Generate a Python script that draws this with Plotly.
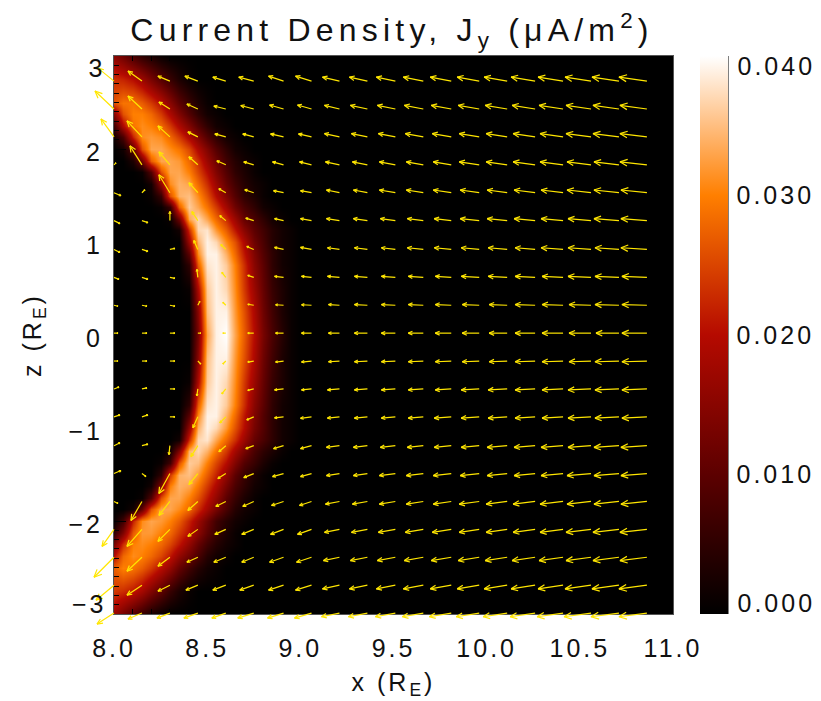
import math
import plotly.graph_objects as go

# ---------- current density, units of 1e-3 uA/m^2 ----------
x_heat = [8.00, 8.05, 8.10, 8.15, 8.20, 8.25, 8.30, 8.35, 8.40, 8.45, 8.50, 8.55,
          8.60, 8.65, 8.70, 8.75, 8.80, 8.85, 8.90, 8.95, 9.00, 9.05, 11.0]
z_heat = [-3, -2.75, -2.5, -2.375, -2.25, -2.125, -2, -1.875, -1.75, -1.625, -1.5, -1.375,
          -1.25, -1.125, -1, -0.875, -0.75, -0.5, -0.25, 0, 0.25, 0.5, 0.75, 0.875, 1,
          1.125, 1.25, 1.375, 1.5, 1.625, 1.75, 1.875, 2, 2.125, 2.25, 2.375, 2.5, 2.75, 3]
rows_heat = [
    [17, 13, 9, 6, 3, 1],
    [24, 23, 21, 18, 14, 10, 6, 3, 1],
    [27, 30, 29, 27, 24, 20, 16, 11, 7, 4, 2, 1],
    [20, 28, 31, 30, 28, 25, 21, 16, 12, 8, 4, 2, 1],
    [13, 23, 30, 31, 30, 28, 25, 21, 16, 11, 7, 4, 2, 1],
    [5, 14, 27, 32, 32, 30, 28, 24, 20, 15, 10, 6, 3, 1],
    [1, 7, 22, 31, 33, 32, 30, 27, 22, 17, 12, 7, 4, 2, 1],
    [0, 0, 2, 11, 26, 33, 33, 31, 28, 23, 18, 13, 8, 4, 2, 1],
    [0, 0, 0, 1, 9, 26, 33, 33, 30, 26, 21, 16, 10, 6, 3, 1],
    [0, 0, 0, 0, 2, 14, 30, 34, 33, 29, 24, 19, 13, 8, 5, 2, 1],
    [0, 0, 0, 0, 0, 5, 24, 34, 35, 32, 27, 22, 16, 10, 6, 3, 1],
    [0, 0, 0, 0, 0, 1, 7, 26, 36, 35, 30, 25, 20, 14, 9, 6, 3, 1],
    [0, 0, 0, 0, 0, 0, 2, 14, 34, 37, 34, 29, 24, 18, 13, 8, 5, 3, 1],
    [0, 0, 0, 0, 0, 0, 0, 2, 23, 37, 38, 33, 28, 23, 17, 11, 8, 5, 2, 1],
    [0, 0, 0, 0, 0, 0, 0, 0, 16, 34, 39, 37, 32, 26, 20, 13, 9, 5, 2, 1],
    [0, 0, 0, 0, 0, 0, 0, 0, 10, 31, 39, 39, 34, 28, 21, 14, 9, 5, 2, 1],
    [0, 0, 0, 0, 0, 0, 0, 0, 5, 27, 38, 39, 36, 30, 23, 15, 10, 5, 2, 1],
    [0, 0, 0, 0, 0, 0, 0, 0, 1, 19, 36, 39, 37, 31, 24, 17, 11, 6, 3, 1],
    [0, 0, 0, 0, 0, 0, 0, 0, 0, 15, 35, 39, 39, 32, 26, 19, 12, 7, 3, 1],
    [0, 0, 0, 0, 0, 0, 0, 0, 0, 13, 33, 39, 40, 33, 27, 20, 13, 8, 4, 1],
    [0, 0, 0, 0, 0, 0, 0, 0, 0, 15, 35, 39, 39, 32, 26, 19, 12, 7, 3, 1],
    [0, 0, 0, 0, 0, 0, 0, 0, 1, 19, 36, 39, 37, 31, 24, 17, 11, 6, 3, 1],
    [0, 0, 0, 0, 0, 0, 0, 0, 5, 27, 38, 39, 36, 30, 23, 15, 10, 5, 2, 1],
    [0, 0, 0, 0, 0, 0, 0, 0, 10, 31, 39, 39, 34, 28, 21, 14, 9, 5, 2, 1],
    [0, 0, 0, 0, 0, 0, 0, 0, 17, 34, 39, 37, 31, 26, 19, 12, 8, 4, 2, 1],
    [0, 0, 0, 0, 0, 0, 0, 2, 23, 37, 38, 32, 27, 21, 15, 10, 7, 4, 2, 1],
    [0, 0, 0, 0, 0, 0, 1, 12, 33, 37, 33, 28, 23, 17, 11, 8, 5, 2, 1],
    [0, 0, 0, 0, 0, 1, 6, 27, 36, 33, 29, 24, 18, 12, 8, 5, 2, 1],
    [0, 0, 0, 0, 1, 6, 26, 34, 35, 31, 26, 20, 14, 9, 5, 3, 1],
    [0, 0, 0, 0, 2, 16, 31, 34, 33, 28, 23, 17, 11, 7, 4, 2, 1],
    [0, 0, 0, 1, 9, 26, 33, 33, 30, 25, 20, 14, 9, 5, 3, 1],
    [0, 0, 3, 12, 27, 33, 33, 32, 28, 23, 17, 12, 7, 4, 2, 1],
    [0, 2, 10, 26, 33, 33, 31, 29, 25, 19, 14, 9, 5, 2, 1],
    [2, 8, 22, 31, 32, 31, 28, 24, 19, 14, 9, 5, 2, 1],
    [7, 19, 29, 31, 30, 28, 24, 19, 14, 9, 5, 2, 1],
    [15, 26, 30, 30, 28, 24, 19, 14, 9, 5, 2, 1],
    [26, 29, 29, 27, 24, 20, 15, 10, 6, 3, 1],
    [23, 22, 20, 17, 13, 9, 6, 3, 1],
    [15, 12, 8, 5, 3, 1],
]

# ---------- arrow field: tails, and components in screen-scaled units ----------
x_arrow = [8.00, 8.15, 8.30, 8.45, 8.60, 8.75, 8.91, 9.06, 9.21, 9.36,
           9.51, 9.66, 9.81, 9.96, 10.11, 10.26, 10.41, 10.56, 10.71, 10.86]
z_arrow = [2.73, 2.43, 2.13, 1.83, 1.53, 1.23, 0.92, 0.62, 0.32, 0.02,
           -0.28, -0.58, -0.88, -1.19, -1.49, -1.79, -2.09, -2.39, -2.69, -2.99]
u_arrow = [
    [-16, -14, -12, -13, -13, -15, -15, -16, -17, -18, -19, -20, -21, -22, -23, -24, -25, -26, -27, -28],
    [-19, -14, -11, -11, -12, -13, -14, -14, -15, -17, -18, -19, -20, -21, -22, -23, -24, -25, -26, -27],
    [-13, -15, -12, -10, -11, -11, -13, -13, -15, -16, -17, -18, -19, -20, -21, -22, -23, -25, -26, -27],
    [2, -12, -11, -9, -9, -10, -11, -12, -14, -15, -16, -17, -18, -20, -21, -22, -23, -24, -25, -27],
    [7, 3, -11, -9, -7, -9, -10, -11, -13, -14, -16, -17, -18, -19, -20, -21, -22, -24, -25, -26],
    [6, 6, 0, -6, -6, -8, -9, -11, -13, -14, -15, -16, -17, -19, -20, -21, -22, -23, -25, -26],
    [6, 6, 5, -4, -5, -7, -9, -11, -12, -13, -14, -16, -17, -18, -19, -20, -22, -23, -24, -26],
    [5, 6, 5, -1, -4, -6, -9, -10, -12, -13, -14, -15, -16, -18, -19, -20, -21, -23, -24, -25],
    [4, 5, 5, 2, -3, -6, -8, -10, -11, -13, -14, -15, -16, -17, -18, -20, -21, -22, -24, -25],
    [4, 5, 5, 3, -3, -6, -8, -10, -11, -13, -14, -15, -16, -17, -18, -20, -21, -22, -23, -25],
    [4, 5, 5, 3, -3, -6, -8, -10, -11, -13, -14, -15, -16, -17, -18, -20, -21, -22, -24, -25],
    [5, 5, 5, -1, -4, -6, -9, -10, -12, -13, -14, -15, -16, -18, -19, -20, -21, -23, -24, -25],
    [6, 6, 5, -5, -6, -7, -9, -11, -12, -13, -14, -15, -17, -18, -19, -20, -21, -23, -24, -25],
    [6, 6, -1, -7, -7, -8, -10, -11, -13, -14, -15, -16, -17, -18, -20, -21, -22, -23, -25, -26],
    [7, 4, -11, -9, -8, -10, -11, -11, -13, -14, -16, -17, -18, -19, -20, -21, -22, -24, -25, -26],
    [4, -11, -11, -10, -10, -11, -12, -12, -14, -15, -16, -17, -18, -20, -21, -22, -23, -24, -25, -26],
    [-12, -15, -12, -10, -11, -12, -13, -14, -15, -16, -17, -18, -19, -20, -21, -22, -23, -25, -26, -27],
    [-20, -15, -12, -11, -12, -12, -14, -15, -16, -17, -18, -19, -20, -21, -22, -23, -24, -25, -26, -27],
    [-18, -15, -12, -12, -13, -14, -15, -16, -17, -18, -19, -20, -21, -22, -23, -24, -25, -26, -27, -28],
    [-17, -14, -13, -14, -14, -16, -16, -17, -18, -19, -20, -21, -22, -23, -24, -25, -26, -27, -28, -28],
]
w_arrow = [
    [13, 10, 5, 5, 4, 4, 5, 5, 4, 4, 4, 4, 4, 4, 4, 4, 4, 4, 4, 4],
    [18, 13, 7, 5, 3, 3.5, 4, 4, 3.7, 3.7, 3.7, 3.7, 3.7, 3.7, 3.7, 3.7, 3.7, 3.7, 3.7, 3.7],
    [18, 16, 11, 5, 3, 3, 3, 3, 3.3, 3.3, 3.3, 3.3, 3.3, 3.3, 3.3, 3.3, 3.3, 3.3, 3.3, 3.3],
    [2, 19, 13, 8, 4, 3, 3, 3, 3, 3, 3, 3, 3, 3, 3, 3, 3, 3, 3, 3],
    [-3, 3, 18, 10, 4, 3, 2, 2, 2.7, 2.7, 2.7, 2.7, 2.7, 2.7, 2.7, 2.7, 2.7, 2.7, 2.7, 2.7],
    [-3, -2, 9, 9, 5, 2.5, 2, 2, 2, 2, 2, 2, 2, 2, 2, 2, 2, 2, 2, 2],
    [-3, -2, 1, 9, 5, 3, 2, 2, 1.7, 1.7, 1.7, 1.7, 1.7, 1.7, 1.7, 1.7, 1.7, 1.7, 1.7, 1.7],
    [-2, -2, -1, 8, 5, 2, 1, 1, 1, 1, 1, 1, 1, 1, 1, 1, 1, 1, 1, 1],
    [-1, -1, -1, 4, 3, 1, 0.5, 0.5, 0.7, 0.7, 0.7, 0.7, 0.7, 0.7, 0.7, 0.7, 0.7, 0.7, 0.7, 0.7],
    [0, 0, 0, 0, 0, 0, 0, 0, 0, 0, 0, 0, 0, 0, 0, 0, 0, 0, 0, 0],
    [0, 0, 0, -3, -3, -1, -1, -1, -0.7, -0.7, -0.7, -0.7, -0.7, -0.7, -0.7, -0.7, -0.7, -0.7, -0.7, -0.7],
    [2, 1, 0, -7, -5, -1.5, -1, -1, -1, -1, -1, -1, -1, -1, -1, -1, -1, -1, -1, -1],
    [2, 2, 0, -11, -6, -3, -1, -1.5, -1.3, -1.3, -1.3, -1.3, -1.3, -1.3, -1.3, -1.3, -1.3, -1.3, -1.3, -1.3],
    [3, 1.5, -9, -11, -6, -3, -3, -3, -1.7, -1.7, -1.7, -1.7, -1.7, -1.7, -1.7, -1.7, -1.7, -1.7, -1.7, -1.7],
    [3, -3, -20, -11, -5, -4, -3, -3, -2, -2, -2, -2, -2, -2, -2, -2, -2, -2, -2, -2],
    [-2, -19, -14, -9, -5, -5, -4, -4, -2.7, -2.7, -2.7, -2.7, -2.7, -2.7, -2.7, -2.7, -2.7, -2.7, -2.7, -2.7],
    [-17, -17, -12, -7, -5, -5, -5, -5, -3, -3, -3, -3, -3, -3, -3, -3, -3, -3, -3, -3],
    [-20, -14, -9, -5, -5, -5, -5, -5, -3.3, -3.3, -3.3, -3.3, -3.3, -3.3, -3.3, -3.3, -3.3, -3.3, -3.3, -3.3],
    [-15, -10, -6, -5, -5, -5, -5, -5, -3.7, -3.7, -3.7, -3.7, -3.7, -3.7, -3.7, -3.7, -3.7, -3.7, -3.7, -3.7],
    [-11, -6, -5, -5, -5, -5, -5, -5, -3.7, -3.7, -3.7, -3.7, -3.7, -3.7, -3.7, -3.7, -3.7, -3.7, -3.7, -3.7],
]

colorbar_ticks = [0.010, 0.020, 0.030]
colorbar_end_labels = ["0.040", "0.000"]
y_end_labels = ["3", "\u22123"]
colors = [[0, "#000000"], [0.25, "#5c0000"], [0.5, "#b50a00"], [0.75, "#ff7f00"],
          [0.875, "#ffbe80"], [1, "#ffffff"]]

FONT = "Liberation Sans"
FS = 25
INK = "#111111"
YEL = "#ffe600"
L, R, T, B = 114, 673, 56, 614      # image box on the page
OL, OB = 88, 640                    # larger box, so arrows can leave the image
PAGE = 8                            # the page's own body margin
PW, PH = R - L, B - T
OW, OH = R - OL, OB - T
PX_X, PX_Z = PW / 3.0, PH / 6.0
WIDTH, HEIGHT = 821 - PAGE, 701 - PAGE

n = len(x_heat)
z_matrix = [[v * 1e-3 for v in r] + [0.0] * (n - len(r)) for r in rows_heat]


def px(x):
    return (x - OL) / OW


def py(y):
    return (OB - y) / OH


fig = go.Figure()
fig.add_trace(go.Heatmap(
    x=x_heat, y=z_heat, z=z_matrix, zmin=0, zmax=0.04, zsmooth="best",
    colorscale=colors,
    colorbar=dict(
        x=px(700), xanchor="left", xpad=0, y=py(B), yanchor="bottom", ypad=0, len=PH / OH,
        thickness=28, outlinewidth=0, tickvals=colorbar_ticks, tickformat=".3f",
        ticks="outside", ticklen=4, tickcolor="rgba(0,0,0,0)",
        tickfont=dict(family=FONT, size=FS, color=INK),
    ),
    hoverinfo="skip",
))

ax, az = [], []
for j, zt in enumerate(z_arrow):
    for i, xt in enumerate(x_arrow):
        du, dw = u_arrow[j][i], w_arrow[j][i]
        size = math.hypot(du, dw)
        if size == 0:
            continue
        hx, hz = xt + du / PX_X, zt + dw / PX_Z
        ax += [xt, hx, None]
        az += [zt, hz, None]
        barb = 0.3 * size
        ang = math.atan2(dw, du)
        for sign in (1, -1):
            a = ang + math.pi + sign * math.radians(24)
            ax += [hx, hx + barb * math.cos(a) / PX_X, None]
            az += [hz, hz + barb * math.sin(a) / PX_Z, None]
fig.add_trace(go.Scatter(x=ax, y=az, xaxis="x2", yaxis="y2", mode="lines", showlegend=False,
                         line=dict(color=YEL, width=1.2), hoverinfo="skip"))

axis_common = dict(
    showgrid=False, zeroline=False, showline=True, linecolor="#555", linewidth=1,
    mirror="allticks", ticks="inside", tickcolor="#000", ticklen=12, tickwidth=1.2,
    tickfont=dict(family=FONT, size=FS, color=INK),
)
title_font = dict(family=FONT, size=FS, color=INK)
fig.update_layout(
    xaxis=dict(
        domain=[px(L), 1], range=[8, 11], dtick=0.5, tick0=8, tickformat=".1f",
        ticklabelstandoff=12, anchor="y",
        minor=dict(dtick=0.1, ticks="inside", ticklen=5, tickcolor="#000", showgrid=False),
        title=dict(text="x (R<sub>E</sub>)", standoff=12, font=title_font),
        **axis_common),
    yaxis=dict(
        domain=[py(B), 1], range=[-3, 3], tickvals=[-2, -1, 0, 1, 2], anchor="x",
        ticklabelstandoff=5, ticklabelshift=3,
        minor=dict(tickvals=[v / 10 for v in range(-30, 31)], ticks="inside", ticklen=5,
                   tickcolor="#000", showgrid=False),
        title=dict(text="z (R<sub>E</sub>)", standoff=25, font=title_font),
        **axis_common),
    xaxis2=dict(domain=[0, 1], range=[8 - (L - OL) / PX_X, 11], visible=False, anchor="y2"),
    yaxis2=dict(domain=[0, 1], range=[-3 - (OB - B) / PX_Z, 3], visible=False, anchor="x2"),
)

annotations = []
for text, y in zip(y_end_labels, (68, 604)):
    annotations.append(dict(text=text, x=px(106), y=py(y), xref="paper", yref="paper",
                            xanchor="right", yanchor="middle", showarrow=False,
                            font=dict(family=FONT, size=FS, color=INK)))
for text, y in zip(colorbar_end_labels, (66, 603)):
    annotations.append(dict(text=text, x=px(776), y=py(y), xref="paper", yref="paper",
                            xanchor="center", yanchor="middle", showarrow=False,
                            font=dict(family=FONT, size=FS, color=INK)))

fig.update_layout(
    width=WIDTH, height=HEIGHT,
    margin=dict(l=OL - PAGE, r=821 - R, t=T - PAGE, b=701 - OB, autoexpand=False),
    paper_bgcolor="#fff", plot_bgcolor="rgba(0,0,0,0)", showlegend=False,
    title=dict(text="Current Density, J<sub>y</sub> (\u03bcA/m<sup>2</sup>)",
               xref="paper", x=px(392), xanchor="center", y=1 - (30 - PAGE) / HEIGHT,
               yanchor="middle", font=dict(family=FONT, size=32, color=INK)),
    annotations=annotations,
    shapes=[dict(type="line", xref="paper", yref="paper", x0=px(728), x1=px(728),
                 y0=py(B), y1=py(T), line=dict(color="#000", width=1))],
)
spacing = """
var s = document.createElement('style');
s.textContent = '.main-svg text{letter-spacing:3px} .main-svg .gtitle{letter-spacing:5.2px}';
document.head.appendChild(s);
"""
fig.write_html("out.html", post_script=spacing)
